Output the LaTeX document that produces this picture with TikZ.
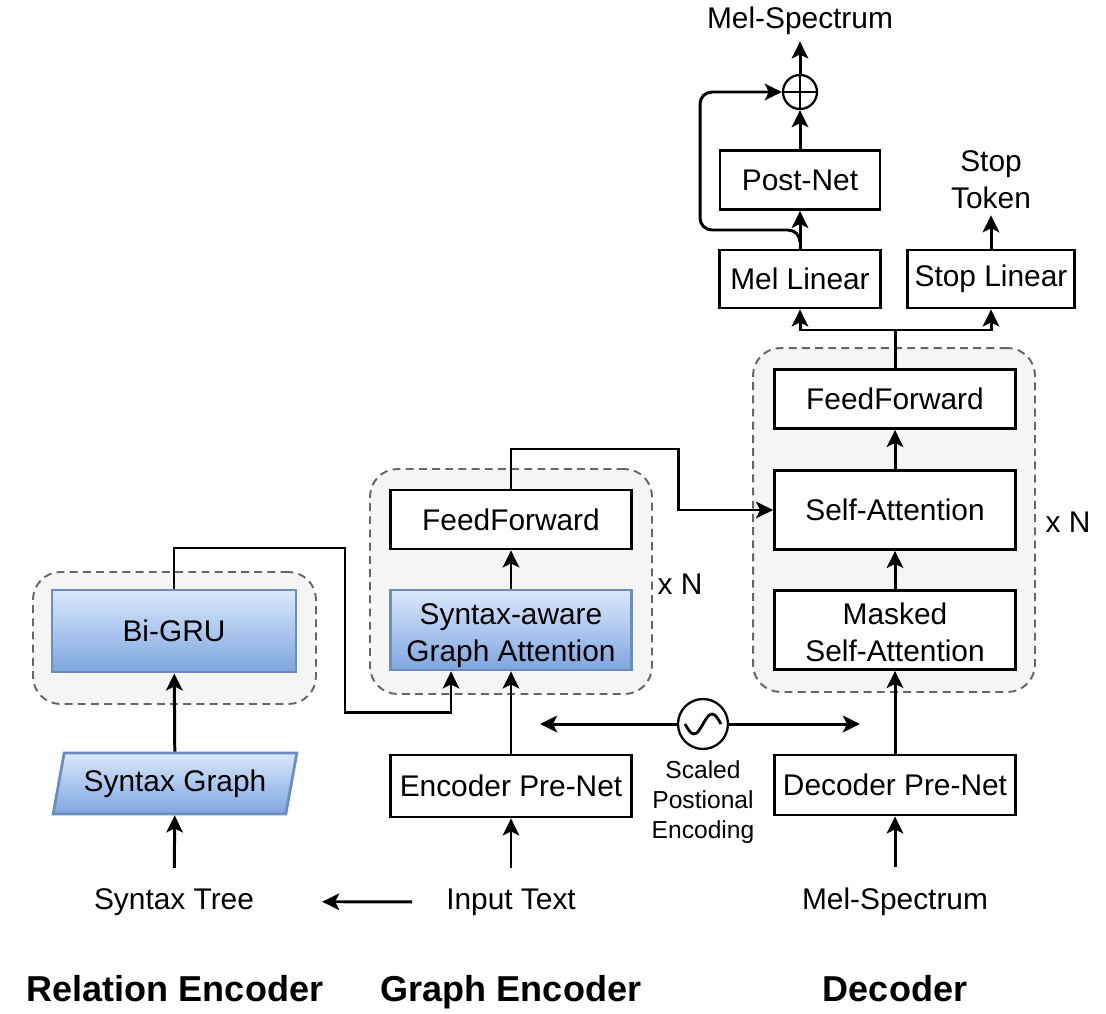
\documentclass[tikz,border=0pt]{standalone}
\usepackage{fontspec}
\setmainfont{Liberation Sans}
\usetikzlibrary{arrows.meta,positioning,calc,shapes.geometric}
\definecolor{grpfill}{HTML}{F5F5F5}
\definecolor{grpline}{HTML}{666666}
\definecolor{blutop}{HTML}{DAE8FC}
\definecolor{blubot}{HTML}{7EA6E0}
\definecolor{bluline}{HTML}{6C8EBF}

\begin{document}
\begin{tikzpicture}[x=0.02cm, y=-0.02cm,
  >={Stealth[length=0.34cm,width=0.33cm,inset=0.08cm]},
  font=\fontsize{17}{21}\selectfont,
  box/.style={draw, line width=1.6pt, fill=white, align=center, minimum width=4.82cm, minimum height=1.18cm, inner sep=0pt},
  bluebox/.style={box, draw=bluline, top color=blutop, bottom color=blubot},
  group/.style={draw=grpline, fill=grpfill, dash pattern=on 4.5pt off 3pt, line width=1.1pt, rounded corners=0.55cm, minimum width=5.64cm},
  link/.style={->, line width=1.7pt},
  title/.style={anchor=base, font=\fontsize{20.5}{24}\selectfont\bfseries}]
\useasboundingbox (0,0) rectangle (1106,1014);

% dashed groups
\node[group, minimum height=6.88cm] (dgrp) at (894,520) {};
\node[group, minimum height=4.5cm] (egrp) at (511,581.5) {};
\node[group, minimum width=5.66cm, minimum height=2.64cm] (rgrp) at (174.5,638) {};

% decoder
\node[box] (dff) at (895,399) {FeedForward};
\node[box, minimum height=1.58cm] (dsa) at (895,510) {Self-Attention};
\node[box, minimum height=1.58cm] (dmsa) at (895,630) {\rule{0pt}{14.7pt}Masked\\Self-Attention};
\node[box, minimum height=1.2cm] (dpre) at (895,785) {Decoder Pre-Net};
\node[anchor=base] (melin) at (895,909) {Mel-Spectrum};
\node (xnd) at (1068,522) {x N};
\node[box, minimum width=3.22cm, minimum height=1.16cm] (mellin) at (800,279) {Mel Linear};
\node[box, minimum width=3.34cm, minimum height=1.16cm] (stoplin) at (991,279) {Stop Linear};
\node[box, minimum width=3.2cm] (post) at (800,180) {Post-Net};
\node[circle, draw, line width=1.3pt, minimum size=0.68cm, inner sep=0pt] (add) at (800,92) {};
\draw[line width=1.3pt] (add.north) -- (add.south) (add.west) -- (add.east);
\node[anchor=base] (melout) at (800,29) {Mel-Spectrum};
\node[align=center] (stoptok) at (991,180) {Stop\\Token};

% graph encoder
\node[box] (eff) at (511,519.5) {FeedForward};
\node[bluebox, minimum height=1.6cm] (ega) at (511,630) {\rule{0pt}{18pt}Syntax-aware\\Graph Attention};
\node[box, minimum height=1.24cm] (epre) at (511,786) {Encoder Pre-Net};
\node[anchor=base] (intext) at (511,909) {Input Text};
\node (xne) at (680,584) {x N};

% relation encoder
\node[bluebox, minimum width=4.88cm, minimum height=1.64cm] (gru) at (174,631) {Bi-GRU};
\node[bluebox, trapezium, trapezium stretches=true, trapezium left angle=72, trapezium right angle=108, minimum width=4.88cm, minimum height=1.22cm] (sgraph) at (175,783.5) {Syntax Graph};
\node[anchor=base] (stree) at (174,909) {Syntax Tree};

% positional encoding
\node[circle, draw, line width=1.3pt, minimum size=1cm, inner sep=0pt, fill=white] (pe) at (703,724) {};
\draw[line width=1.6pt] ([xshift=-0.36cm]pe.center) sin ++(0.18cm,-0.2cm) cos ++(0.18cm,0.2cm) sin ++(0.18cm,0.2cm) cos ++(0.18cm,-0.2cm);
\node[align=center, font=\fontsize{14}{17}\selectfont] (pelbl) at (703,802) {Scaled\\Postional\\Encoding};
\coordinate (pel) at (540,724);
\coordinate (per) at (860,724);
\draw[link] (pe) -- (pel);
\draw[link] (pe) -- (per);

% titles
\node[title] (trel) at (175,1001) {Relation Encoder};
\node[title] (tgra) at (511,1001) {Graph Encoder};
\node[title] (tdec) at (895,1001) {Decoder};

% decoder links
\draw[link, shorten <=0.28cm] (melin) -- (dpre);
\draw[link] (dpre) -- (dmsa);
\draw[link] (dmsa) -- (dsa);
\draw[link] (dsa) -- (dff);
\coordinate (split) at (895,330);
\draw[link] (dff) -- (split) -| (mellin);
\draw[link] (split) -| (stoplin);
\draw[link] (mellin) -- (post);
\draw[link] (post) -- (add);
\draw[link] (add) -- (melout);
\draw[link] (stoplin) -- (stoptok);
\coordinate (skip) at (800,240);
\draw[link, rounded corners=0.24cm] (skip) -- (800,230) -- (700,230) -- (700,92) -- (add);

% encoder links
\draw[link, shorten <=0.28cm] (intext) -- (epre);
\draw[link] (epre) -- (ega);
\draw[link] (ega) -- (eff);
\coordinate (hop) at (678,449);
\draw[link] (eff) |- (hop) |- (dsa);
\draw[link, shorten <=0.56cm, shorten >=1.24cm] (intext) -- (stree);
\draw[link, shorten <=0.28cm] (stree) -- (sgraph);
\draw[link] (sgraph) -- (gru);
\coordinate (gruout) at (345,548);
\coordinate (gruin) at (451,712);
\draw[link] (gru) |- (gruout) |- (gruin) -- (gruin |- ega.south);
\end{tikzpicture}
\end{document}
